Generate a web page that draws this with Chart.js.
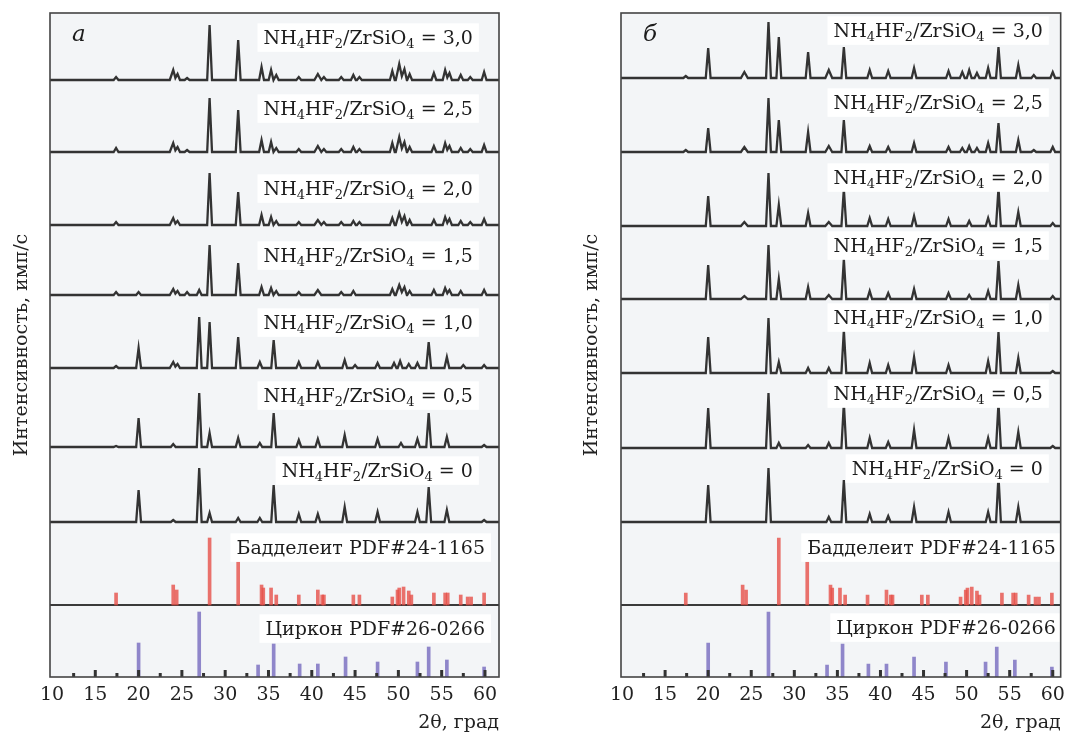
<!DOCTYPE html>
<html>
<head>
<meta charset="utf-8">
<script src="https://cdn.jsdelivr.net/npm/chart.js@4.4.1/dist/chart.umd.min.js"></script>
<style>
  body { margin: 0; background: #fff; }
  canvas { position: absolute; top: 0; }
  #left { left: 0; }
  #right { left: 560px; }
</style>
</head>
<body>
<canvas id="left" width="510" height="735"></canvas>
<canvas id="right" width="512" height="735"></canvas>
<script>
// --- Data ---
const ratios = ['3,0', '2,5', '2,0', '1,5', '1,0', '0,5', '0'];
const xTicks = [10, 15, 20, 25, 30, 35, 40, 45, 50, 55, 60];
const minorTicks = [12.5, 15, 17.5, 20, 22.5, 25, 27.5, 30, 32.5, 35, 37.5, 40, 42.5, 45, 47.5, 50, 52.5, 55, 57.5, 60];

// peaks: [2θ, height, halfwidth?]  (panel а)
const a30 = [[17.4,3],[24.0,10,0.4],[24.5,6],[25.6,2],[28.2,55],[31.5,40],[34.2,13],[35.3,10],[35.9,5],[38.5,3],[40.7,6,0.4],[41.4,3],[43.4,3],[44.8,5],[45.5,3],[49.3,9],[50.1,16,0.4],[50.7,11],[51.3,6],[54.1,7],[55.4,10],[55.9,7],[57.2,5],[58.3,3],[59.9,8]];
const a25 = [[17.4,4],[24.0,9,0.4],[24.5,5],[25.6,2],[28.2,54],[31.5,42],[34.2,12],[35.3,10],[35.9,4],[38.5,3],[40.7,6,0.4],[41.4,3],[43.4,3],[44.8,5],[45.5,3],[49.3,9],[50.1,15,0.4],[50.7,10],[51.3,5],[54.1,6],[55.4,9],[55.9,6],[57.2,4],[58.3,3],[59.9,7]];
const a20 = [[17.4,3],[24.0,7,0.4],[24.5,4],[28.2,52],[31.5,33],[34.2,10],[35.3,8],[35.9,4],[38.5,3],[40.7,5,0.4],[41.4,3],[43.4,3],[44.8,4],[45.5,3],[49.3,7],[50.1,12,0.4],[50.7,9],[51.3,5],[54.1,5],[55.4,8],[55.9,6],[57.2,4],[58.3,3],[59.9,6]];
const a15 = [[17.4,3],[20.0,3],[24.0,6,0.4],[24.5,4],[25.6,3],[27.0,5],[28.2,50],[31.5,32],[34.2,8],[35.3,7],[35.9,4],[38.5,3],[40.7,5,0.4],[43.4,3],[44.8,4],[49.3,6],[50.1,10,0.4],[50.7,8],[51.3,4],[54.1,5],[55.4,7],[55.9,5],[57.2,4],[59.9,5]];
const a10 = [[17.4,2],[20.0,20],[24.0,6,0.4],[24.5,4],[27.0,51],[28.2,46],[31.5,31],[34.0,6],[35.6,28],[38.5,6],[40.7,6],[43.8,8],[45.0,3],[47.6,5],[49.5,5],[50.2,7],[51.2,4],[52.2,5],[53.5,26],[55.6,11],[57.5,3],[59.9,3]];
const a05 = [[17.4,1],[20.0,29],[24.0,3],[27.0,54],[28.2,14],[31.5,9],[34.0,4],[35.6,34],[38.5,7],[40.7,8],[43.8,12],[47.6,8],[50.3,4],[52.2,8],[53.5,34],[55.6,10],[59.9,2]];
const a00 = [[20.0,32],[24.0,2],[27.0,54],[28.2,9],[31.5,4],[34.0,4],[35.6,37],[38.5,8],[40.7,8],[43.8,15],[47.6,10],[52.2,10],[53.5,35],[55.6,12],[59.9,2]];

// panel б
const b30 = [[17.4,2],[20.0,30],[24.2,6,0.4],[27.0,56],[28.2,41],[31.6,26],[34.0,8,0.4],[35.75,31],[38.75,8],[40.9,7],[43.9,10],[47.9,7],[49.5,6],[50.3,8],[51.2,5],[52.5,10],[53.7,31],[56.0,13],[57.8,3],[60.0,6]];
const b25 = [[17.4,2],[20.0,24],[24.2,5,0.4],[27.0,54],[28.2,32],[31.6,20],[34.0,6,0.4],[35.75,32],[38.75,6],[40.9,5],[43.9,9],[47.9,5],[49.5,4],[50.3,6],[51.2,4],[52.5,9],[53.7,29],[56.0,12],[57.8,2],[60.0,5]];
const b20 = [[20.0,30],[24.2,4,0.4],[27.0,53],[28.2,21],[31.6,13],[34.0,4,0.4],[35.75,37],[38.75,8],[40.9,7],[43.9,10],[47.9,7],[50.3,5],[52.5,8],[53.7,38],[56.0,14],[60.0,3]];
const b15 = [[20.0,34],[24.2,3,0.4],[27.0,54],[28.2,20],[31.6,12],[34.0,4,0.4],[35.75,40],[38.75,8],[40.9,6],[43.9,10],[47.9,6],[50.3,4],[52.5,8],[53.7,38],[56.0,14],[60.0,3]];
const b10 = [[20.0,36],[27.0,55],[28.2,11],[31.6,5],[34.0,5],[35.75,43],[38.75,10],[40.9,8],[43.9,16],[47.9,8],[52.5,12],[53.7,41],[56.0,15],[60.0,2]];
const b05 = [[20.0,40],[27.0,55],[28.2,5],[31.6,3],[34.0,5],[35.75,45],[38.75,10],[40.9,6],[43.9,18],[47.9,10],[52.5,10],[53.7,45],[56.0,16],[60.0,2]];
const b00 = [[20.0,37],[27.0,54],[34.0,5],[35.75,42],[38.75,8],[40.9,6],[43.9,15],[47.9,10],[52.5,10],[53.7,46],[56.0,15]];

// reference patterns: [2θ, relative height]
const baddeleyite = [[17.4,12],[24.0,20],[24.4,15],[28.2,67],[31.5,43],[34.2,20],[34.4,17],[35.3,17],[35.9,10],[38.5,10],[40.7,15],[41.2,10],[41.4,10],[44.8,10],[45.5,10],[49.3,8],[49.9,15],[50.1,17],[50.6,18],[51.2,14],[51.5,10],[54.1,12],[55.4,12],[55.7,12],[57.2,10],[58.0,8],[58.4,8],[59.9,12]];
const zircon = [[20.0,34],[27.0,65],[33.8,12],[35.6,33],[38.6,13],[40.7,13],[43.9,20],[47.6,15],[52.2,15],[53.5,30],[55.6,17],[59.9,10]];

// --- Layout ---
const SERIF = '"DejaVu Serif", "Liberation Serif", serif';
const baddBase = 72;

const panels = [
  { id: 'left', letter: 'a', traces: [a30, a25, a20, a15, a10, a05, a00],
    bases: [597, 525, 452, 382, 309, 230, 155], labelDy: [43, 44, 37, 40, 46, 52, 52],
    labelX: 58.6, refLabelX: 60.0, refDy: [58, 49], xMin: 9.77, xMax: 61.62,
    axisW: 50, padRight: 11, titlePad: 11 },
  { id: 'right', letter: 'б', traces: [b30, b25, b20, b15, b10, b05, b00],
    bases: [599, 525, 451, 378, 304, 229, 155], labelDy: [48, 50, 49, 54, 56, 55, 54],
    labelX: 58.85, refLabelX: 60.35, refDy: [58, 50], xMin: 9.88, xMax: 60.92,
    axisW: 61, padRight: 9, titlePad: 21 }
];

function tracePoints(peaks, base, xMin, xMax) {
  const pts = [{ x: xMin, y: base }];
  let prevH = 0;
  peaks.forEach(([p, h, w = 0.28]) => {
    const last = pts[pts.length - 1];
    if (pts.length > 1 && p - w <= last.x) {
      pts.pop();
      const prevPeak = pts[pts.length - 1];
      pts.push({ x: (prevPeak.x + p) / 2, y: base + Math.min(h, prevH) * 0.35 });
    } else {
      pts.push({ x: p - w, y: base });
    }
    pts.push({ x: p, y: base + h });
    pts.push({ x: p + w, y: base });
    prevH = h;
  });
  pts.push({ x: xMax, y: base });
  return pts;
}

function labelParts(r) {
  return [['NH'], ['4', 1], ['HF'], ['2', 1], ['/ZrSiO'], ['4', 1], [' = ' + r]];
}

function drawRich(ctx, parts, xRight, yMid, size) {
  const main = size + 'px ' + SERIF, sub = Math.round(size * 0.68) + 'px ' + SERIF;
  let w = 0;
  parts.forEach(([t, s]) => { ctx.font = s ? sub : main; w += ctx.measureText(t).width; });
  let x = xRight - w;
  ctx.fillStyle = '#fff';
  ctx.fillRect(x - 6, yMid - size * 0.72, w + 12, size * 1.5);
  const base = yMid + size * 0.36;
  ctx.fillStyle = '#1c1c1c';
  ctx.textBaseline = 'alphabetic';
  ctx.textAlign = 'left';
  parts.forEach(([t, s]) => {
    ctx.font = s ? sub : main;
    ctx.fillText(t, x, s ? base + size * 0.2 : base);
    x += ctx.measureText(t).width;
  });
}

const panelDecor = {
  id: 'panelDecor',
  beforeDatasetsDraw(chart) {
    const { ctx, chartArea: ca, scales: { y } } = chart;
    ctx.save();
    ctx.fillStyle = '#f3f5f7';
    ctx.fillRect(ca.left, ca.top, ca.right - ca.left, ca.bottom - ca.top);
    ctx.strokeStyle = '#3a3a3a';
    ctx.lineWidth = 2;
    ctx.beginPath();
    ctx.moveTo(ca.left, y.getPixelForValue(baddBase));
    ctx.lineTo(ca.right, y.getPixelForValue(baddBase));
    ctx.stroke();
    ctx.restore();
  },
  afterDatasetsDraw(chart) {
    const { ctx, chartArea: ca, scales: { x, y } } = chart;
    const p = chart.options.plugins.panelDecor.panel;
    ctx.save();
    // inner ticks on the bottom axis
    ctx.fillStyle = '#333';
    minorTicks.forEach(v => {
      const len = v % 5 === 0 ? 7 : 4;
      ctx.fillRect(x.getPixelForValue(v) - 1.5, ca.bottom - len, 3, len);
    });
    // labels
    ratios.forEach((r, i) => {
      drawRich(ctx, labelParts(r), x.getPixelForValue(p.labelX), y.getPixelForValue(p.bases[i] + p.labelDy[i]), 19);
    });
    drawRich(ctx, [['Бадделеит PDF#24-1165']], x.getPixelForValue(p.refLabelX), y.getPixelForValue(baddBase + p.refDy[0]), 19);
    drawRich(ctx, [['Циркон PDF#26-0266']], x.getPixelForValue(p.refLabelX), y.getPixelForValue(p.refDy[1]), 19);
    // panel letter
    ctx.fillStyle = '#1c1c1c';
    ctx.font = 'italic 23px ' + SERIF;
    ctx.textBaseline = 'middle';
    ctx.fillText(p.letter, ca.left + 22, ca.top + 22);
    // frame
    ctx.strokeStyle = '#444';
    ctx.lineWidth = 1.6;
    ctx.strokeRect(ca.left, ca.top, ca.right - ca.left, ca.bottom - ca.top);
    ctx.restore();
  }
};

panels.forEach(p => {
  const datasets = p.traces.map((peaks, i) => ({
    type: 'line',
    data: tracePoints(peaks, p.bases[i], p.xMin, p.xMax),
    borderColor: '#333',
    borderWidth: 2.3,
    pointRadius: 0,
    tension: 0
  }));
  datasets.push({
    type: 'bar', grouped: false, barThickness: 3,
    data: baddeleyite.map(([v, h]) => ({ x: v, y: [baddBase, baddBase + h] })),
    backgroundColor: 'rgba(230, 80, 72, 0.8)'
  });
  datasets.push({
    type: 'bar', grouped: false, barThickness: 3,
    data: zircon.map(([v, h]) => ({ x: v, y: [0, h] })),
    backgroundColor: 'rgba(118, 106, 190, 0.8)'
  });

  new Chart(document.getElementById(p.id), {
    type: 'line',
    data: { datasets },
    options: {
      responsive: false,
      animation: false,
      layout: { padding: { left: 0, right: p.padRight, top: 13, bottom: 0 } },
      plugins: { legend: { display: false }, tooltip: { enabled: false }, panelDecor: { panel: p } },
      scales: {
        x: {
          type: 'linear', min: p.xMin, max: p.xMax, offset: false,
          afterBuildTicks: s => { s.ticks = xTicks.map(v => ({ value: v })); },
          afterFit: s => { s.height = 58; },
          ticks: { font: { family: SERIF, size: 19 }, color: '#222', padding: 7, maxRotation: 0, autoSkip: false },
          grid: { display: false, drawTicks: false, offset: false },
          border: { display: false },
          title: { display: true, text: '2θ, град', align: 'end', color: '#222',
                   font: { family: SERIF, size: 19 }, padding: { top: 2, bottom: 1 } }
        },
        y: {
          min: 0, max: 664,
          afterFit: s => { s.width = p.axisW; },
          ticks: { display: false },
          grid: { display: false, drawTicks: false },
          border: { display: false },
          title: { display: true, text: 'Интенсивность, имп/с', color: '#222',
                   font: { family: SERIF, size: 19 }, padding: { top: p.titlePad, bottom: 0 } }
        }
      }
    },
    plugins: [panelDecor]
  });
});
</script>
</body>
</html>
